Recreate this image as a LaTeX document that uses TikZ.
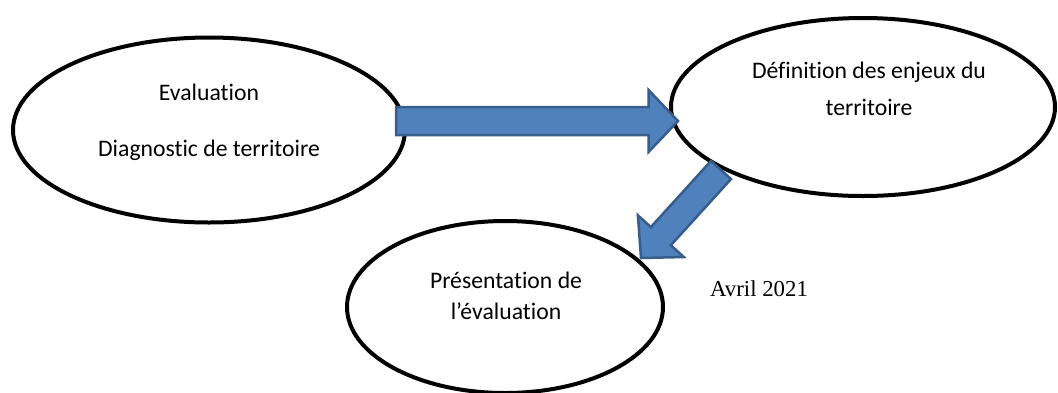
\documentclass[tikz,border=0pt]{standalone}
\usepackage{fontspec}
\setmainfont{Carlito}[RawFeature={-liga;-clig;-calt;-dlig}]
\newfontfamily\timesfont{Liberation Serif}
\usetikzlibrary{shapes.geometric,calc}
\definecolor{arrowfill}{HTML}{4F81BD}
\definecolor{arrowline}{HTML}{385D8A}
\tikzset{
  oval/.style={draw=black, line width=4pt, ellipse, inner sep=0pt},
  lbl/.style={font=\fontsize{23.7}{28}\selectfont, inner sep=0pt, anchor=center},
  blockarrow/.style={fill=arrowfill, draw=arrowline, line width=2.5pt, line join=miter},
}
\begin{document}
\begin{tikzpicture}[x=1pt,y=-1pt]
\useasboundingbox (0,0) rectangle (1058,392);
% ellipses
\node[oval, minimum width=392pt, minimum height=185pt] (e1) at (209,130) {};
\node[oval, minimum width=384pt, minimum height=178pt] (e2) at (863,107) {};
\node[oval, minimum width=316pt, minimum height=172pt] (e3) at (505,307) {};
% texts
\node[lbl] (t1a) at (209,92) {Evaluation};
\node[lbl] (t1b) at (209,150) {Diagnostic de territoire};
\node[lbl] (t2a) at (869,72) {Définition des enjeux du};
\node[lbl] (t2b) at (869,107) {territoire};
\node[lbl] (t3a) at (506,280) {Présentation de};
\node[lbl] (t3b) at (506,311) {l’évaluation};
\node[font=\timesfont\fontsize{22.8}{26}\selectfont, inner sep=0pt, anchor=west] (date) at (710,289) {Avril 2021};
% arrow 1: e1 -> e2
\coordinate (a1s) at (396,121);
\coordinate (a1t) at (678,121);
\coordinate (a1c) at ($(a1t)!29.5pt!(a1s)$);
\draw[blockarrow] ($(a1s)!14pt!90:(a1t)$) -- ($(a1c)!14pt!90:(a1t)$) -- ($(a1c)!31pt!90:(a1t)$)
  -- (a1t) -- ($(a1c)!31pt!-90:(a1t)$) -- ($(a1c)!14pt!-90:(a1t)$) -- ($(a1s)!14pt!-90:(a1t)$) -- cycle;
% arrow 2: e2 -> e3
\coordinate (a2s) at (721,170);
\coordinate (a2t) at (641,258);
\coordinate (a2c) at ($(a2t)!29.5pt!(a2s)$);
\draw[blockarrow] ($(a2s)!13.5pt!90:(a2t)$) -- ($(a2c)!13.5pt!90:(a2t)$) -- ($(a2c)!31pt!90:(a2t)$)
  -- (a2t) -- ($(a2c)!31pt!-90:(a2t)$) -- ($(a2c)!13.5pt!-90:(a2t)$) -- ($(a2s)!13.5pt!-90:(a2t)$) -- cycle;
\end{tikzpicture}
\end{document}
